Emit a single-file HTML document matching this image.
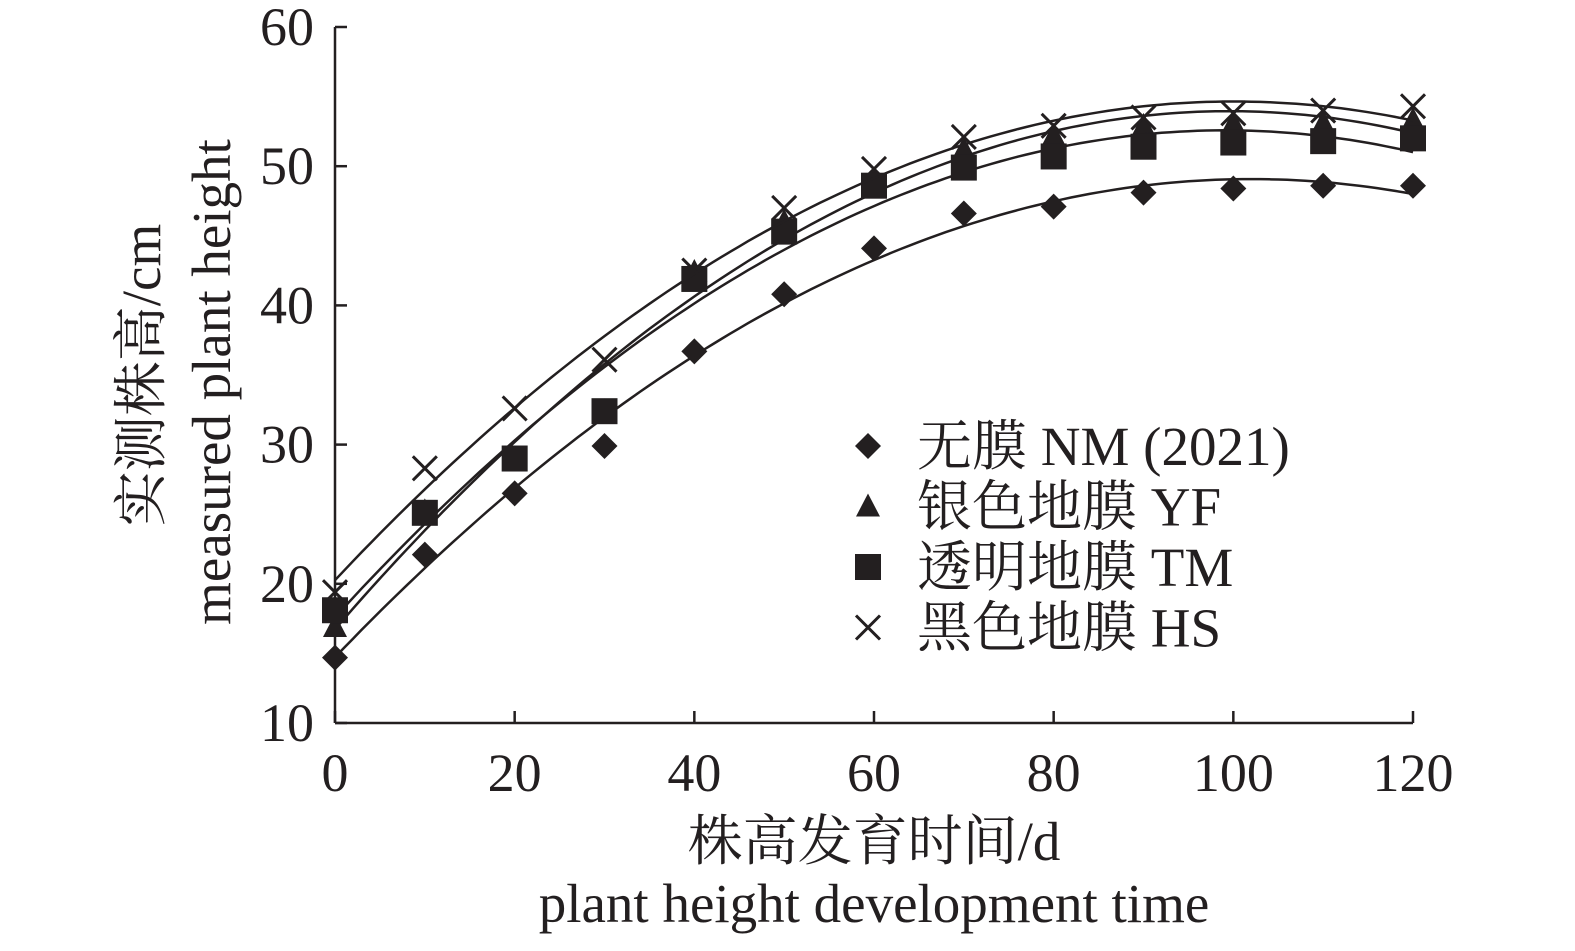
<!DOCTYPE html>
<html><head><meta charset="utf-8"><style>
body{margin:0;background:#fff}
svg text{font-family:"Liberation Serif","Noto Serif CJK SC",serif;fill:#231f20}
</style></head><body>
<svg id="c" width="1575" height="946"></svg>
<script>
const xs=[0,10,20,30,40,50,60,70,80,90,100,110,120];
const nm=[14.7,22.1,26.5,29.9,36.7,40.8,44.1,46.6,47.1,48.1,48.4,48.6,48.6];
const yf=[16.9,25.2,29.0,32.4,42.4,46.0,49.0,51.2,52.2,52.9,53.1,53.1,53.3];
const tm=[18.1,25.1,29.0,32.4,41.9,45.3,48.6,49.9,50.7,51.4,51.7,51.8,52.0];
const hs=[19.4,28.3,32.6,36.1,42.5,47.0,49.8,52.1,52.9,53.5,53.8,54.0,54.3];
const xTicks=[0,20,40,60,80,100,120];
const yTicks=[10,20,30,40,50,60];
const legendLabels=["无膜 NM (2021)","银色地膜 YF","透明地膜 TM","黑色地膜 HS"];
const svg=document.getElementById('c');const NS='http://www.w3.org/2000/svg';
const X=v=>335+v*(1413-335)/120, Y=v=>723-(v-10)*(723-27)/50;
function el(t,a,p){const e=document.createElementNS(NS,t);for(const k in a)e.setAttribute(k,a[k]);(p||svg).appendChild(e);return e;}
const ax=el('g',{});


el('line',{x1:335,y1:27,x2:335,y2:723,stroke:'#231f20','stroke-width':2.5},ax);
el('line',{x1:335,y1:723,x2:1413,y2:723,stroke:'#231f20','stroke-width':2.5},ax);
yTicks.forEach(t=>{el('line',{x1:335,x2:347,y1:Y(t),y2:Y(t),stroke:'#231f20','stroke-width':2.5},ax);
const tx=el('text',{x:314,y:Y(t)+18,'font-size':54,'text-anchor':'end'},ax);tx.textContent=t;

});
xTicks.forEach(t=>{el('line',{x1:X(t),x2:X(t),y1:723,y2:711,stroke:'#231f20','stroke-width':2.5},ax);
const tx=el('text',{x:X(t),y:791,'font-size':54,'text-anchor':'middle'},ax);tx.textContent=t;

});
function fit(ys){let S=[0,0,0,0,0],T=[0,0,0];xs.forEach((x,i)=>{for(let k=0;k<5;k++)S[k]+=x**k;for(let k=0;k<3;k++)T[k]+=ys[i]*x**k;});
const A=[[S[0],S[1],S[2],T[0]],[S[1],S[2],S[3],T[1]],[S[2],S[3],S[4],T[2]]];
for(let i=0;i<3;i++){for(let j=i+1;j<3;j++){const f=A[j][i]/A[i][i];for(let k=i;k<4;k++)A[j][k]-=f*A[i][k];}}
const c=[0,0,0];for(let i=2;i>=0;i--){let s=A[i][3];for(let k=i+1;k<3;k++)s-=A[i][k]*c[k];c[i]=s/A[i][i];}return c;}
function marker(type,cx,cy,g){
if(type==='d')el('polygon',{points:`${cx},${cy-13} ${cx+13},${cy} ${cx},${cy+13} ${cx-13},${cy}`,fill:'#231f20'},g);
else if(type==='t')el('polygon',{points:`${cx},${cy-13} ${cx+12},${cy+10} ${cx-12},${cy+10}`,fill:'#231f20'},g);
else if(type==='s')el('rect',{x:cx-13,y:cy-13,width:26,height:26,fill:'#231f20'},g);
else{el('path',{d:`M${cx-12} ${cy-12}L${cx+12} ${cy+12}M${cx+12} ${cy-12}L${cx-12} ${cy+12}`,stroke:'#231f20','stroke-width':3},g);}}
const series=[[nm,'d','series-nm'],[yf,'t','series-yf'],[tm,'s','series-tm'],[hs,'x','series-hs']];
series.forEach(([ys,m,name])=>{const g=el('g',{});


const c=fit(ys);let d='';for(let x=0;x<=120;x+=1){const v=c[0]+c[1]*x+c[2]*x*x;d+=(x?'L':'M')+X(x).toFixed(1)+' '+Y(v).toFixed(1);}
const p=el('path',{d,fill:'none',stroke:'#231f20','stroke-width':2.5},g);


xs.forEach((x,i)=>marker(m,X(x),Y(ys[i]),g));});
const lg=el('g',{});


['d','t','s','x'].forEach((m,i)=>{const y=446+i*60.5;marker(m,868,y,lg);
const t=el('text',{x:917,y:y+19,'font-size':55},lg);t.textContent=legendLabels[i];

});
function txt(s,a,name){const t=el('text',a);t.textContent=s;

}
txt('株高发育时间/d',{x:874,y:860,'font-size':55,'text-anchor':'middle'},'x-axis-title');
txt('plant height development time',{x:874,y:922,'font-size':55,'text-anchor':'middle'},'x-axis-subtitle');
txt('实测株高/cm',{x:0,y:0,'font-size':55,'text-anchor':'middle',transform:'translate(160,375) rotate(-90)'},'y-axis-title');
txt('measured plant height',{x:0,y:0,'font-size':55,'text-anchor':'middle',transform:'translate(230,382) rotate(-90)'},'y-axis-subtitle');
</script>
</body></html>
